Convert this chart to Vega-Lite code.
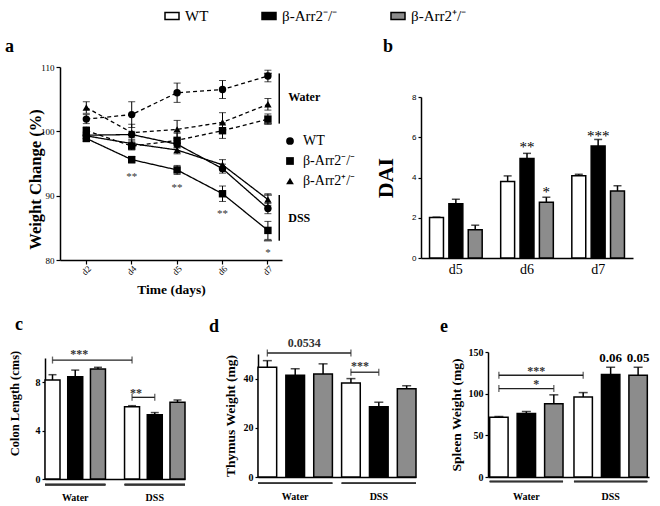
{
  "$schema": "https://vega.github.io/schema/vega-lite/v6.json",
  "background": "white",
  "padding": {"left": 5, "top": 8, "right": 5, "bottom": 5},
  "config": {
    "view": {"stroke": null},
    "font": "Liberation Serif",
    "axis": {"grid": false, "domainColor": "black", "domainWidth": 1.5, "tickColor": "black", "tickWidth": 1.2, "labelColor": "black", "titleColor": "black", "labelFont": "Liberation Serif", "titleFont": "Liberation Serif", "titleFontWeight": "bold"},
    "title": {"font": "Liberation Serif", "fontSize": 18, "fontWeight": "bold", "anchor": "start", "frame": "group", "color": "black"}
  },
  "datasets": {
    "a": [
      {"day": "d2", "genotype": "WT", "treatment": "Water", "mean": 101.9, "lo": 101.2, "hi": 102.6},
      {"day": "d4", "genotype": "WT", "treatment": "Water", "mean": 102.6, "lo": 100.6, "hi": 104.6},
      {"day": "d5", "genotype": "WT", "treatment": "Water", "mean": 106.0, "lo": 104.5, "hi": 107.5},
      {"day": "d6", "genotype": "WT", "treatment": "Water", "mean": 106.5, "lo": 105.1, "hi": 107.9},
      {"day": "d7", "genotype": "WT", "treatment": "Water", "mean": 108.6, "lo": 107.7, "hi": 109.5},
      {"day": "d2", "genotype": "β-Arr2⁻/⁻", "treatment": "Water", "mean": 100.1, "lo": 99.5, "hi": 100.7},
      {"day": "d4", "genotype": "β-Arr2⁻/⁻", "treatment": "Water", "mean": 97.7, "lo": 97.1, "hi": 98.3},
      {"day": "d5", "genotype": "β-Arr2⁻/⁻", "treatment": "Water", "mean": 98.6, "lo": 97.5, "hi": 99.7},
      {"day": "d6", "genotype": "β-Arr2⁻/⁻", "treatment": "Water", "mean": 100.1, "lo": 98.9, "hi": 101.3},
      {"day": "d7", "genotype": "β-Arr2⁻/⁻", "treatment": "Water", "mean": 101.9, "lo": 101.1, "hi": 102.7},
      {"day": "d2", "genotype": "β-Arr2⁺/⁻", "treatment": "Water", "mean": 103.7, "lo": 102.8, "hi": 104.6},
      {"day": "d4", "genotype": "β-Arr2⁺/⁻", "treatment": "Water", "mean": 99.8, "lo": 98.5, "hi": 101.1},
      {"day": "d5", "genotype": "β-Arr2⁺/⁻", "treatment": "Water", "mean": 100.3, "lo": 98.9, "hi": 101.7},
      {"day": "d6", "genotype": "β-Arr2⁺/⁻", "treatment": "Water", "mean": 101.4, "lo": 99.9, "hi": 102.9},
      {"day": "d7", "genotype": "β-Arr2⁺/⁻", "treatment": "Water", "mean": 104.2, "lo": 103.3, "hi": 105.1},
      {"day": "d2", "genotype": "WT", "treatment": "DSS", "mean": 99.4, "lo": 98.9, "hi": 99.9},
      {"day": "d4", "genotype": "WT", "treatment": "DSS", "mean": 99.5, "lo": 99.0, "hi": 100.0},
      {"day": "d5", "genotype": "WT", "treatment": "DSS", "mean": 98.0, "lo": 97.4, "hi": 98.6},
      {"day": "d6", "genotype": "WT", "treatment": "DSS", "mean": 94.2, "lo": 93.5, "hi": 94.9},
      {"day": "d7", "genotype": "WT", "treatment": "DSS", "mean": 88.0, "lo": 87.2, "hi": 88.8},
      {"day": "d2", "genotype": "β-Arr2⁻/⁻", "treatment": "DSS", "mean": 98.9, "lo": 98.4, "hi": 99.4},
      {"day": "d4", "genotype": "β-Arr2⁻/⁻", "treatment": "DSS", "mean": 95.6, "lo": 95.1, "hi": 96.1},
      {"day": "d5", "genotype": "β-Arr2⁻/⁻", "treatment": "DSS", "mean": 94.0, "lo": 93.3, "hi": 94.7},
      {"day": "d6", "genotype": "β-Arr2⁻/⁻", "treatment": "DSS", "mean": 90.3, "lo": 89.1, "hi": 91.5},
      {"day": "d7", "genotype": "β-Arr2⁻/⁻", "treatment": "DSS", "mean": 84.6, "lo": 83.2, "hi": 86.0},
      {"day": "d2", "genotype": "β-Arr2⁺/⁻", "treatment": "DSS", "mean": 99.3, "lo": 98.8, "hi": 99.8},
      {"day": "d4", "genotype": "β-Arr2⁺/⁻", "treatment": "DSS", "mean": 98.1, "lo": 97.5, "hi": 98.7},
      {"day": "d5", "genotype": "β-Arr2⁺/⁻", "treatment": "DSS", "mean": 97.1, "lo": 96.5, "hi": 97.7},
      {"day": "d6", "genotype": "β-Arr2⁺/⁻", "treatment": "DSS", "mean": 94.8, "lo": 94.0, "hi": 95.6},
      {"day": "d7", "genotype": "β-Arr2⁺/⁻", "treatment": "DSS", "mean": 89.4, "lo": 88.5, "hi": 90.3}
    ],
    "aStar": [
      {"day": "d4", "y": 93.3, "label": "**"},
      {"day": "d5", "y": 91.6, "label": "**"},
      {"day": "d6", "y": 87.6, "label": "**"},
      {"day": "d7", "y": 81.6, "label": "*"}
    ],
    "aBr": [
      {"day": "d7", "lo": 101.2, "hi": 109.0, "mid": 105.3, "label": "Water"},
      {"day": "d7", "lo": 83.0, "hi": 90.1, "mid": 86.5, "label": "DSS"}
    ],
    "b": [
      {"day": "d5", "genotype": "WT", "mean": 2.01, "hi": 2.03},
      {"day": "d5", "genotype": "β-Arr2⁻/⁻", "mean": 2.69, "hi": 2.92},
      {"day": "d5", "genotype": "β-Arr2⁺/⁻", "mean": 1.40, "hi": 1.63},
      {"day": "d6", "genotype": "WT", "mean": 3.80, "hi": 4.08},
      {"day": "d6", "genotype": "β-Arr2⁻/⁻", "mean": 4.95, "hi": 5.20},
      {"day": "d6", "genotype": "β-Arr2⁺/⁻", "mean": 2.77, "hi": 3.02},
      {"day": "d7", "genotype": "WT", "mean": 4.09, "hi": 4.16},
      {"day": "d7", "genotype": "β-Arr2⁻/⁻", "mean": 5.56, "hi": 5.89},
      {"day": "d7", "genotype": "β-Arr2⁺/⁻", "mean": 3.33, "hi": 3.59}
    ],
    "bStar": [
      {"day": "d6", "genotype": "β-Arr2⁻/⁻", "y": 5.69, "label": "**"},
      {"day": "d6", "genotype": "β-Arr2⁺/⁻", "y": 3.47, "label": "*"},
      {"day": "d7", "genotype": "β-Arr2⁻/⁻", "y": 6.27, "label": "***"}
    ],
    "c": [
      {"group": "Water", "genotype": "WT", "mean": 8.18, "hi": 8.62},
      {"group": "Water", "genotype": "β-Arr2⁻/⁻", "mean": 8.46, "hi": 9.0},
      {"group": "Water", "genotype": "β-Arr2⁺/⁻", "mean": 9.09, "hi": 9.23},
      {"group": "DSS", "genotype": "WT", "mean": 5.98, "hi": 6.06},
      {"group": "DSS", "genotype": "β-Arr2⁻/⁻", "mean": 5.32, "hi": 5.49},
      {"group": "DSS", "genotype": "β-Arr2⁺/⁻", "mean": 6.34, "hi": 6.53}
    ],
    "cBr": [
      {"id": 1, "group": "Water", "genotype": "WT", "level": 9.83},
      {"id": 1, "group": "DSS", "genotype": "WT", "level": 9.83},
      {"id": 2, "group": "DSS", "genotype": "WT", "level": 6.75},
      {"id": 2, "group": "DSS", "genotype": "β-Arr2⁻/⁻", "level": 6.75}
    ],
    "cLab": [
      {"group": "Water", "genotype": "β-Arr2⁻/⁻", "y": 10.6, "label": "***"},
      {"group": "DSS", "genotype": "WT", "y": 7.35, "label": "**"}
    ],
    "d": [
      {"group": "Water", "genotype": "WT", "mean": 44.6, "hi": 47.3},
      {"group": "Water", "genotype": "β-Arr2⁻/⁻", "mean": 41.4, "hi": 44.0},
      {"group": "Water", "genotype": "β-Arr2⁺/⁻", "mean": 41.9, "hi": 46.0},
      {"group": "DSS", "genotype": "WT", "mean": 38.2, "hi": 40.0},
      {"group": "DSS", "genotype": "β-Arr2⁻/⁻", "mean": 28.6, "hi": 30.4},
      {"group": "DSS", "genotype": "β-Arr2⁺/⁻", "mean": 35.9, "hi": 37.1}
    ],
    "dBr": [
      {"id": 1, "group": "Water", "genotype": "WT", "level": 50.4},
      {"id": 1, "group": "DSS", "genotype": "WT", "level": 50.4},
      {"id": 2, "group": "DSS", "genotype": "WT", "level": 42.6},
      {"id": 2, "group": "DSS", "genotype": "β-Arr2⁻/⁻", "level": 42.6}
    ],
    "dLab": [
      {"group": "Water", "genotype": "β-Arr2⁻/⁻", "y": 54.5, "label": "0.0534"},
      {"group": "DSS", "genotype": "WT", "y": 45.0, "label": "***"}
    ],
    "e": [
      {"group": "Water", "genotype": "WT", "mean": 71.8, "hi": 72.6},
      {"group": "Water", "genotype": "β-Arr2⁻/⁻", "mean": 76.2, "hi": 78.6},
      {"group": "Water", "genotype": "β-Arr2⁺/⁻", "mean": 87.8, "hi": 98.6},
      {"group": "DSS", "genotype": "WT", "mean": 96.1, "hi": 101.3},
      {"group": "DSS", "genotype": "β-Arr2⁻/⁻", "mean": 122.9, "hi": 131.7},
      {"group": "DSS", "genotype": "β-Arr2⁺/⁻", "mean": 122.1, "hi": 131.7}
    ],
    "eBr": [
      {"id": 1, "group": "Water", "genotype": "WT", "level": 122.1},
      {"id": 1, "group": "DSS", "genotype": "WT", "level": 122.1},
      {"id": 2, "group": "Water", "genotype": "WT", "level": 106.1},
      {"id": 2, "group": "Water", "genotype": "β-Arr2⁺/⁻", "level": 106.1}
    ],
    "eLab": [
      {"group": "Water", "genotype": "β-Arr2⁻/⁻", "y": 130.8, "label": "***"},
      {"group": "Water", "genotype": "β-Arr2⁻/⁻", "y": 114.9, "label": "*"}
    ],
    "eTop": [
      {"group": "DSS", "genotype": "β-Arr2⁻/⁻", "y": 142.8, "label": "0.06"},
      {"group": "DSS", "genotype": "β-Arr2⁺/⁻", "y": 142.8, "label": "0.05"}
    ]
  },
  "resolve": {"scale": {"xOffset": "independent", "x": "independent", "y": "independent", "shape": "independent", "strokeDash": "independent"}, "legend": {"shape": "independent", "strokeDash": "independent"}},
  "spacing": 18,
  "vconcat": [
    {
      "spacing": 18,
      "resolve": {"scale": {"xOffset": "independent", "x": "independent", "y": "independent", "shape": "independent", "strokeDash": "independent"}, "legend": {"shape": "independent", "strokeDash": "independent"}},
      "hconcat": [
        {
          "width": 237,
          "height": 193,
          "title": {"text": "a", "dx": -40, "offset": 7},
          "layer": [
            {
              "data": {"name": "a"},
              "mark": {"type": "line", "color": "black", "strokeWidth": 1.3},
              "encoding": {
                "x": {"field": "day", "type": "ordinal", "scale": {"type": "band", "domain": ["d2", "d4", "d5", "d6", "d7"], "range": [15, 237], "paddingInner": 0.5, "paddingOuter": 0.195, "align": 0.845},
                  "axis": {"title": "Time (days)", "titleFontSize": 13.5, "titlePadding": 6, "labelAngle": -45, "labelAlign": "center", "labelBaseline": "middle", "labelFontSize": 9, "labelPadding": 6, "tickSize": 4}},
                "y": {"field": "mean", "type": "quantitative", "scale": {"domain": [80, 110], "nice": false, "zero": false},
                  "axis": {"title": "Weight Change (%)", "titleFontSize": 16.5, "titleX": -17, "titleY": 112, "values": [80, 90, 100, 110], "labelFontSize": 9, "tickSize": 4, "offset": -15}},
                "detail": [{"field": "genotype"}, {"field": "treatment"}],
                "strokeDash": {"field": "treatment", "type": "nominal", "scale": {"domain": ["Water", "DSS"], "range": [[4, 3], [1, 0]]}, "legend": null}
              }
            },
            {
              "data": {"name": "a"},
              "mark": {"type": "rule", "color": "black", "strokeWidth": 1},
              "encoding": {
                "x": {"field": "day", "type": "ordinal"},
                "y": {"field": "lo", "type": "quantitative"},
                "y2": {"field": "hi"}
              }
            },
            {
              "data": {"name": "a"},
              "mark": {"type": "tick", "color": "black", "size": 7, "thickness": 1},
              "encoding": {"x": {"field": "day", "type": "ordinal"}, "y": {"field": "lo", "type": "quantitative"}}
            },
            {
              "data": {"name": "a"},
              "mark": {"type": "tick", "color": "black", "size": 7, "thickness": 1},
              "encoding": {"x": {"field": "day", "type": "ordinal"}, "y": {"field": "hi", "type": "quantitative"}}
            },
            {
              "data": {"name": "a"},
              "mark": {"type": "point", "filled": true, "color": "black", "opacity": 1, "size": 55},
              "encoding": {
                "x": {"field": "day", "type": "ordinal"},
                "y": {"field": "mean", "type": "quantitative"},
                "shape": {"field": "genotype", "type": "nominal",
                  "scale": {"domain": ["WT", "β-Arr2⁻/⁻", "β-Arr2⁺/⁻"], "range": ["circle", "square", "triangle-up"]},
                  "legend": {"orient": "none", "legendX": 238, "legendY": 67, "title": null, "symbolFillColor": "black", "symbolStrokeColor": "black", "symbolSize": 60, "labelFont": "Liberation Serif", "labelFontSize": 14, "labelColor": "black", "rowPadding": 6, "labelOffset": 6}
                }
              }
            },
            {
              "data": {"name": "aStar"},
              "mark": {"type": "text", "fontSize": 11, "color": "#333", "baseline": "middle", "dy": 3},
              "encoding": {"x": {"field": "day", "type": "ordinal"}, "y": {"field": "y", "type": "quantitative"}, "text": {"field": "label"}}
            },
            {
              "data": {"name": "aBr"},
              "mark": {"type": "rule", "color": "black", "strokeWidth": 1.5},
              "encoding": {"x": {"field": "day", "type": "ordinal", "bandPosition": 1}, "y": {"field": "lo", "type": "quantitative"}, "y2": {"field": "hi"}}
            },
            {
              "data": {"name": "aBr"},
              "mark": {"type": "tick", "color": "black", "size": 8, "thickness": 1.5},
              "encoding": {"x": {"field": "day", "type": "ordinal", "bandPosition": 1}, "y": {"field": "lo", "type": "quantitative"}}
            },
            {
              "data": {"name": "aBr"},
              "mark": {"type": "tick", "color": "black", "size": 8, "thickness": 1.5},
              "encoding": {"x": {"field": "day", "type": "ordinal", "bandPosition": 1}, "y": {"field": "hi", "type": "quantitative"}}
            },
            {
              "data": {"name": "aBr"},
              "mark": {"type": "text", "fontSize": 12, "fontWeight": "bold", "align": "left", "baseline": "middle", "dx": 9, "color": "black"},
              "encoding": {"x": {"field": "day", "type": "ordinal", "bandPosition": 1}, "y": {"field": "mid", "type": "quantitative"}, "text": {"field": "label"}}
            }
          ]
        },
        {
          "width": 212,
          "height": 191,
          "title": {"text": "b", "dx": -38, "offset": 11},
          "layer": [
            {
              "data": {"name": "b"},
              "mark": {"type": "bar", "stroke": "black", "strokeWidth": 1.5},
              "encoding": {
                "x": {"field": "day", "type": "nominal", "scale": {"domain": ["d5", "d6", "d7"], "paddingInner": 0.26, "paddingOuter": 0.12},
                  "axis": {"title": null, "labelAngle": 0, "labelFontSize": 14, "ticks": false, "tickSize": 0, "labelPadding": 4}},
                "xOffset": {"field": "genotype", "type": "nominal", "scale": {"domain": ["WT", "β-Arr2⁻/⁻", "β-Arr2⁺/⁻"], "paddingInner": 0.28, "paddingOuter": 0}},
                "y": {"field": "mean", "type": "quantitative", "scale": {"domain": [0, 8], "nice": false, "range": [191, 30]},
                  "axis": {"title": "DAI", "titleFontSize": 22, "titleX": -24, "values": [0, 2, 4, 6, 8], "labelFont": "Liberation Sans", "labelFontSize": 8, "tickSize": 3}},
                "fill": {"field": "genotype", "type": "nominal",
                  "scale": {"domain": ["WT", "β-Arr2⁻/⁻", "β-Arr2⁺/⁻"], "range": ["white", "black", "#8c8c8c"]},
                  "legend": {"orient": "none", "legendX": 119, "legendY": -59, "direction": "horizontal", "title": null, "symbolType": "M-1,-0.5H1V0.5H-1Z", "symbolSize": 196, "symbolStrokeColor": "black", "symbolStrokeWidth": 1.5, "labelFont": "Liberation Serif", "labelFontSize": 15, "labelColor": "black", "columnPadding": 50, "labelOffset": 5}}
              }
            },
            {
              "data": {"name": "b"},
              "mark": {"type": "rule", "color": "black", "strokeWidth": 1.5},
              "encoding": {"x": {"field": "day", "type": "nominal"}, "xOffset": {"field": "genotype", "type": "nominal"}, "y": {"field": "mean", "type": "quantitative"}, "y2": {"field": "hi"}}
            },
            {
              "data": {"name": "b"},
              "mark": {"type": "tick", "color": "black", "size": 8, "thickness": 1.5},
              "encoding": {"x": {"field": "day", "type": "nominal"}, "xOffset": {"field": "genotype", "type": "nominal"}, "y": {"field": "hi", "type": "quantitative"}}
            },
            {
              "data": {"name": "bStar"},
              "mark": {"type": "text", "fontSize": 15, "color": "black", "baseline": "middle", "dy": 4},
              "encoding": {"x": {"field": "day", "type": "nominal"}, "xOffset": {"field": "genotype", "type": "nominal"}, "y": {"field": "y", "type": "quantitative"}, "text": {"field": "label"}}
            }
          ]
        }
      ]
    },
    {
      "spacing": 23,
      "resolve": {"scale": {"xOffset": "independent", "x": "independent", "y": "independent"}},
      "hconcat": [
        {
          "width": 140,
          "height": 127,
          "title": {"text": "c", "dx": -30, "offset": 14},
          "layer": [
            {
              "data": {"name": "c"},
              "mark": {"type": "bar", "stroke": "black", "strokeWidth": 1.5},
              "encoding": {
                "x": {"field": "group", "type": "nominal", "scale": {"domain": ["Water", "DSS"], "paddingInner": 0.24, "paddingOuter": 0},
                  "axis": {"title": null, "labelAngle": 0, "labelFontSize": 10, "labelFontWeight": "bold", "ticks": false, "tickSize": 0, "labelPadding": 13}},
                "xOffset": {"field": "genotype", "type": "nominal", "scale": {"domain": ["WT", "β-Arr2⁻/⁻", "β-Arr2⁺/⁻"], "paddingInner": 0.34, "paddingOuter": 0}},
                "y": {"field": "mean", "type": "quantitative", "scale": {"domain": [0, 10], "nice": false, "range": [127, 6]},
                  "axis": {"title": "Colon Length (cms)", "titleFontSize": 12.5, "titleX": -24, "titleY": 51, "values": [0, 2, 4, 6, 8, 10], "labelFontSize": 10, "labelFontWeight": "bold", "tickSize": 3}},
                "fill": {"field": "genotype", "type": "nominal", "scale": {"domain": ["WT", "β-Arr2⁻/⁻", "β-Arr2⁺/⁻"], "range": ["white", "black", "#8c8c8c"]}}
              }
            },
            {
              "data": {"name": "c"},
              "mark": {"type": "rule", "color": "black", "strokeWidth": 1.5},
              "encoding": {"x": {"field": "group", "type": "nominal"}, "xOffset": {"field": "genotype", "type": "nominal"}, "y": {"field": "mean", "type": "quantitative"}, "y2": {"field": "hi"}}
            },
            {
              "data": {"name": "c"},
              "mark": {"type": "tick", "color": "black", "size": 8, "thickness": 1.5},
              "encoding": {"x": {"field": "group", "type": "nominal"}, "xOffset": {"field": "genotype", "type": "nominal"}, "y": {"field": "hi", "type": "quantitative"}}
            },
            {
              "data": {"name": "c"},
              "mark": {"type": "rect", "color": "#333"},
              "encoding": {"x": {"field": "group", "type": "nominal"}, "y": {"datum": -0.4}, "y2": {"datum": -0.53}}
            },
            {
              "data": {"name": "cBr"},
              "mark": {"type": "line", "color": "#222", "strokeWidth": 1.3},
              "encoding": {"x": {"field": "group", "type": "nominal"}, "xOffset": {"field": "genotype", "type": "nominal"}, "y": {"field": "level", "type": "quantitative"}, "detail": {"field": "id"}}
            },
            {
              "data": {"name": "cBr"},
              "mark": {"type": "tick", "orient": "vertical", "color": "#222", "size": 7, "thickness": 1.3},
              "encoding": {"x": {"field": "group", "type": "nominal"}, "xOffset": {"field": "genotype", "type": "nominal"}, "y": {"field": "level", "type": "quantitative"}}
            },
            {
              "data": {"name": "cLab"},
              "mark": {"type": "text", "fontSize": 12, "fontWeight": "bold", "color": "#333", "baseline": "middle", "dy": 3, "dx": 4},
              "encoding": {"x": {"field": "group", "type": "nominal"}, "xOffset": {"field": "genotype", "type": "nominal"}, "y": {"field": "y", "type": "quantitative"}, "text": {"field": "label"}}
            }
          ]
        },
        {
          "width": 158,
          "height": 125,
          "title": {"text": "d", "dx": -49, "offset": 1},
          "layer": [
            {
              "data": {"name": "d"},
              "mark": {"type": "bar", "stroke": "black", "strokeWidth": 1.5},
              "encoding": {
                "x": {"field": "group", "type": "nominal", "scale": {"domain": ["Water", "DSS"], "paddingInner": 0.11, "paddingOuter": 0},
                  "axis": {"title": null, "labelAngle": 0, "labelFontSize": 10, "labelFontWeight": "bold", "ticks": false, "tickSize": 0, "labelPadding": 14}},
                "xOffset": {"field": "genotype", "type": "nominal", "scale": {"domain": ["WT", "β-Arr2⁻/⁻", "β-Arr2⁺/⁻"], "paddingInner": 0.33, "paddingOuter": 0}},
                "y": {"field": "mean", "type": "quantitative", "scale": {"domain": [0, 50], "nice": false, "range": [125, 2]},
                  "axis": {"title": "Thymus Weight (mg)", "titleFontSize": 13.5, "titleX": -21, "values": [0, 10, 20, 30, 40, 50], "labelFontSize": 10, "labelFontWeight": "bold", "tickSize": 3}},
                "fill": {"field": "genotype", "type": "nominal", "scale": {"domain": ["WT", "β-Arr2⁻/⁻", "β-Arr2⁺/⁻"], "range": ["white", "black", "#8c8c8c"]}}
              }
            },
            {
              "data": {"name": "d"},
              "mark": {"type": "rule", "color": "black", "strokeWidth": 1.5},
              "encoding": {"x": {"field": "group", "type": "nominal"}, "xOffset": {"field": "genotype", "type": "nominal"}, "y": {"field": "mean", "type": "quantitative"}, "y2": {"field": "hi"}}
            },
            {
              "data": {"name": "d"},
              "mark": {"type": "tick", "color": "black", "size": 9, "thickness": 1.5},
              "encoding": {"x": {"field": "group", "type": "nominal"}, "xOffset": {"field": "genotype", "type": "nominal"}, "y": {"field": "hi", "type": "quantitative"}}
            },
            {
              "data": {"name": "d"},
              "mark": {"type": "rect", "color": "#333"},
              "encoding": {"x": {"field": "group", "type": "nominal"}, "y": {"datum": -2.2}, "y2": {"datum": -2.75}}
            },
            {
              "data": {"name": "dBr"},
              "mark": {"type": "line", "color": "#222", "strokeWidth": 1.3},
              "encoding": {"x": {"field": "group", "type": "nominal"}, "xOffset": {"field": "genotype", "type": "nominal"}, "y": {"field": "level", "type": "quantitative"}, "detail": {"field": "id"}}
            },
            {
              "data": {"name": "dBr"},
              "mark": {"type": "tick", "orient": "vertical", "color": "#222", "size": 7, "thickness": 1.3},
              "encoding": {"x": {"field": "group", "type": "nominal"}, "xOffset": {"field": "genotype", "type": "nominal"}, "y": {"field": "level", "type": "quantitative"}}
            },
            {
              "data": {"name": "dLab"},
              "mark": {"type": "text", "fontSize": 12, "fontWeight": "bold", "color": "#333", "baseline": "middle", "dx": 9},
              "encoding": {"x": {"field": "group", "type": "nominal"}, "xOffset": {"field": "genotype", "type": "nominal"}, "y": {"field": "y", "type": "quantitative"}, "text": {"field": "label"}}
            }
          ]
        },
        {
          "width": 161,
          "height": 125,
          "title": {"text": "e", "dx": -48, "offset": 11},
          "layer": [
            {
              "data": {"name": "e"},
              "mark": {"type": "bar", "stroke": "black", "strokeWidth": 1.5},
              "encoding": {
                "x": {"field": "group", "type": "nominal", "scale": {"domain": ["Water", "DSS"], "paddingInner": 0.13, "paddingOuter": 0.02},
                  "axis": {"title": null, "labelAngle": 0, "labelFontSize": 10, "labelFontWeight": "bold", "ticks": false, "tickSize": 0, "labelPadding": 14}},
                "xOffset": {"field": "genotype", "type": "nominal", "scale": {"domain": ["WT", "β-Arr2⁻/⁻", "β-Arr2⁺/⁻"], "paddingInner": 0.33, "paddingOuter": 0}},
                "y": {"field": "mean", "type": "quantitative", "scale": {"domain": [0, 150], "nice": false},
                  "axis": {"title": "Spleen Weight (mg)", "titleFontSize": 13.5, "titleX": -25, "values": [0, 50, 100, 150], "labelFontSize": 10, "labelFontWeight": "bold", "tickSize": 3}},
                "fill": {"field": "genotype", "type": "nominal", "scale": {"domain": ["WT", "β-Arr2⁻/⁻", "β-Arr2⁺/⁻"], "range": ["white", "black", "#8c8c8c"]}}
              }
            },
            {
              "data": {"name": "e"},
              "mark": {"type": "rule", "color": "black", "strokeWidth": 1.5},
              "encoding": {"x": {"field": "group", "type": "nominal"}, "xOffset": {"field": "genotype", "type": "nominal"}, "y": {"field": "mean", "type": "quantitative"}, "y2": {"field": "hi"}}
            },
            {
              "data": {"name": "e"},
              "mark": {"type": "tick", "color": "black", "size": 9, "thickness": 1.5},
              "encoding": {"x": {"field": "group", "type": "nominal"}, "xOffset": {"field": "genotype", "type": "nominal"}, "y": {"field": "hi", "type": "quantitative"}}
            },
            {
              "data": {"name": "e"},
              "mark": {"type": "rect", "color": "#333"},
              "encoding": {"x": {"field": "group", "type": "nominal"}, "y": {"datum": -4.5}, "y2": {"datum": -6.2}}
            },
            {
              "data": {"name": "eBr"},
              "mark": {"type": "line", "color": "#222", "strokeWidth": 1.3},
              "encoding": {"x": {"field": "group", "type": "nominal"}, "xOffset": {"field": "genotype", "type": "nominal"}, "y": {"field": "level", "type": "quantitative"}, "detail": {"field": "id"}}
            },
            {
              "data": {"name": "eBr"},
              "mark": {"type": "tick", "orient": "vertical", "color": "#222", "size": 7, "thickness": 1.3},
              "encoding": {"x": {"field": "group", "type": "nominal"}, "xOffset": {"field": "genotype", "type": "nominal"}, "y": {"field": "level", "type": "quantitative"}}
            },
            {
              "data": {"name": "eLab"},
              "mark": {"type": "text", "fontSize": 12, "fontWeight": "bold", "color": "#333", "baseline": "middle", "dy": 3, "dx": 10},
              "encoding": {"x": {"field": "group", "type": "nominal"}, "xOffset": {"field": "genotype", "type": "nominal"}, "y": {"field": "y", "type": "quantitative"}, "text": {"field": "label"}}
            },
            {
              "data": {"name": "eTop"},
              "mark": {"type": "text", "fontSize": 13, "fontWeight": "bold", "color": "black", "baseline": "middle"},
              "encoding": {"x": {"field": "group", "type": "nominal"}, "xOffset": {"field": "genotype", "type": "nominal"}, "y": {"field": "y", "type": "quantitative"}, "text": {"field": "label"}}
            }
          ]
        }
      ]
    }
  ]
}
